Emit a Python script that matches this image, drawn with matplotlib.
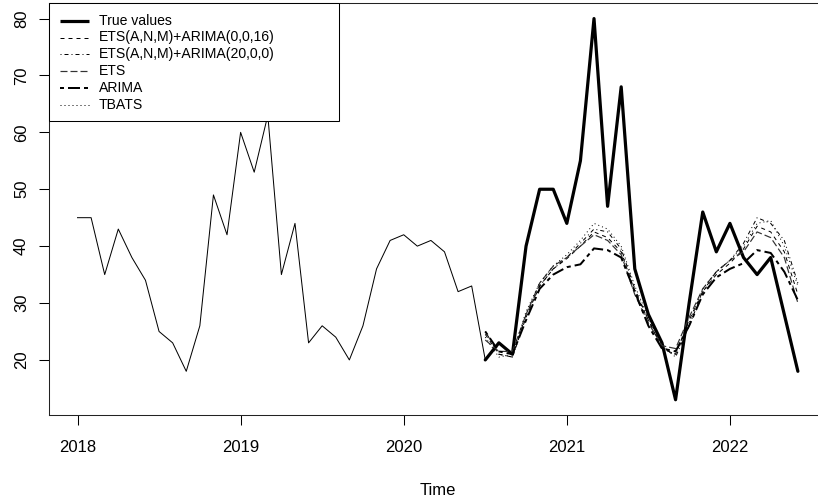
import numpy as np
import matplotlib
matplotlib.use("Agg")
import matplotlib.pyplot as plt
from matplotlib.lines import Line2D
from matplotlib.patches import Rectangle

plt.rcParams['font.family'] = ['Liberation Sans', 'DejaVu Sans']
plt.rcParams['lines.scale_dashes'] = False

start_year = 2018
# Historical series, monthly from Jan 2018 to Jul 2020
history = [45, 45, 35, 43, 38, 34, 25, 23, 18, 26, 49, 42,
           60, 53, 63, 35, 44, 23, 26, 24, 20, 26, 36, 41,
           42, 40, 41, 39, 32, 33, 20]
# True values, monthly from Jul 2020 to Jun 2022
true_values = [20, 23, 21, 40, 50, 50, 44, 55, 80, 47, 68, 36,
               28, 23, 13, 30, 46, 39, 44, 38, 35, 38, 28, 18]
# Forecasts, monthly from Jul 2020 to Jun 2022
ets_arima_0_0_16 = [24.5, 21, 20.5, 27.5, 33, 36, 37.8, 40, 42.5, 41.5, 39, 32,
                    27, 22, 21, 27, 32, 35, 37, 39.5, 43.5, 42.5, 39, 31.5]
ets_arima_20_0_0 = [25, 21, 20.5, 28, 33, 36, 38, 40.5, 43, 42.5, 39.5, 32.5,
                    27, 22.5, 20.5, 26, 32, 35.5, 37.5, 40.5, 45, 44, 41, 33.5]
ets = [23.5, 21.5, 21.5, 28, 33.5, 36.5, 38, 40, 42, 41, 38.5, 31.5,
       26.5, 22.5, 22, 27.5, 32.5, 35.5, 37.5, 39, 42.5, 41.5, 38, 30]
arima = [25, 21.5, 21, 27, 32.5, 35, 36.3, 36.8, 39.6, 39.3, 38, 32,
         26, 22, 21.5, 26, 31.5, 34.5, 36, 37, 39.3, 38.8, 35.5, 30.5]
tbats = [24, 20.5, 21, 28.5, 33.5, 36.5, 38.5, 41, 44, 43, 40, 33,
         27.5, 22, 21, 26.5, 32.5, 35.5, 37.5, 40, 44, 44.5, 40, 33]
labels = ["True values", "ETS(A,N,M)+ARIMA(0,0,16)", "ETS(A,N,M)+ARIMA(20,0,0)",
          "ETS", "ARIMA", "TBATS"]
x_ticks = [2018, 2019, 2020, 2021, 2022]
y_ticks = [20, 30, 40, 50, 60, 70, 80]

t_hist = start_year + np.arange(len(history)) / 12.0
t_fc = start_year + (len(history) - 1 + np.arange(len(true_values))) / 12.0

W, H = 818, 501
fig = plt.figure(figsize=(W / 100, H / 100), dpi=100)
left_px, right_px, top_px, bot_px = 48.7, 826.7, 3.3, 415
ax = fig.add_axes([left_px / W, (H - bot_px) / H, (right_px - left_px) / W, (bot_px - top_px) / H])

px = 0.72  # one pixel in points
styles = [
    dict(color='black', lw=3.2 * px, linestyle='-'),
    dict(color='black', lw=1 * px, linestyle=(0, (4 * px, 4 * px))),
    dict(color='black', lw=1 * px, linestyle=(0, (1 * px, 3 * px, 4 * px, 3 * px))),
    dict(color='#333333', lw=1.2 * px, linestyle=(0, (7 * px, 3 * px))),
    dict(color='black', lw=2 * px, linestyle=(0, (4 * px, 4 * px, 12 * px, 4 * px))),
    dict(color='black', lw=1 * px, linestyle=(0, (1 * px, 3 * px))),
]
series = [true_values, ets_arima_0_0_16, ets_arima_20_0_0, ets, arima, tbats]

ax.plot(t_hist, history, color='black', lw=1 * px, solid_joinstyle='round')
for vals, st in zip(series, styles):
    ax.plot(t_fc, vals, solid_joinstyle='round', solid_capstyle='round', **st)

data_min_t, data_max_t = t_hist[0], t_fc[-1]
rng = data_max_t - data_min_t
ax.set_xlim(data_min_t - 0.04 * rng, data_max_t + 0.04 * rng)
allv = history + true_values + ets_arima_0_0_16 + ets_arima_20_0_0 + ets + arima + tbats
vmin, vmax = min(allv), max(allv)
vr = vmax - vmin
ax.set_ylim(vmin - 0.04 * vr, vmax + 0.04 * vr)

ax.set_xticks(x_ticks)
ax.set_xticklabels([str(v) for v in x_ticks])
ax.set_yticks(y_ticks)
ax.set_yticklabels([str(v) for v in y_ticks], rotation=90, va='center')
ax.tick_params(axis='both', direction='out', length=7.2, width=0.75, labelsize=12, colors='black')
ax.tick_params(axis='x', pad=11)
ax.tick_params(axis='y', pad=7)
for s in ax.spines.values():
    s.set_linewidth(0.75)
    s.set_color('#222222')
ax.set_xlabel("Time", fontsize=12, labelpad=20)

# Legend drawn in figure pixel coordinates (R-style box)
def fx(p):
    return p / W

def fy(p):
    return 1 - p / H

box = Rectangle((fx(left_px), fy(121)), fx(339) - fx(left_px), fy(top_px) - fy(121),
                transform=fig.transFigure, facecolor='white', edgecolor='black',
                linewidth=0.75, zorder=10)
fig.add_artist(box)
row_y = [20.7, 37.5, 54.3, 71.1, 87.9, 104.7]
for lab, st, ry in zip(labels, styles, row_y):
    fig.add_artist(Line2D([fx(60), fx(88.5)], [fy(ry), fy(ry)], transform=fig.transFigure,
                          zorder=11, solid_capstyle='butt', dash_capstyle='butt', **st))
    fig.text(fx(99), fy(ry), lab, fontsize=10.1, va='center', ha='left', zorder=12)

fig.savefig("out.png", dpi=100)
